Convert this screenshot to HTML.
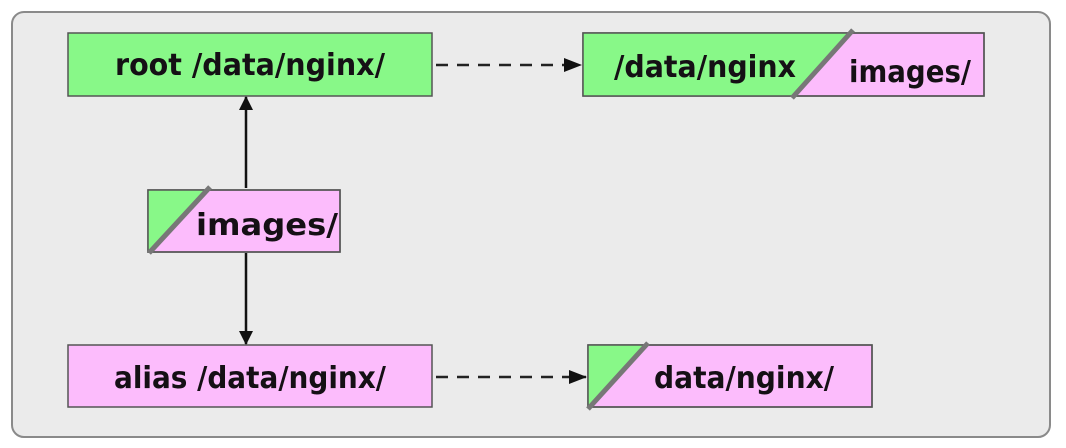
<!DOCTYPE html>
<html><head><meta charset="utf-8"><style>
html,body{margin:0;padding:0;background:#fff;}
svg{display:block;}
text{font-family:"DejaVu Sans","Liberation Sans",sans-serif;font-size:30px;font-weight:bold;fill:#151015;}
</style></head><body>
<svg width="1066" height="448" viewBox="0 0 1066 448">
<defs>
<marker id="ah" markerWidth="14" markerHeight="14" refX="13" refY="7" orient="auto" markerUnits="userSpaceOnUse">
<path d="M0,0 L14,7 L0,14 z" fill="#111"/></marker>
<marker id="ah2" markerWidth="18" markerHeight="14" refX="17" refY="7" orient="auto" markerUnits="userSpaceOnUse">
<path d="M0,0 L18,7 L0,14 z" fill="#111"/></marker>
</defs>
<rect x="12" y="12" width="1038" height="425" rx="12" fill="#ebebeb" stroke="#8a8a8a" stroke-width="2"/>
<rect x="68" y="33" width="364" height="63" fill="#88f888" stroke="#555" stroke-width="1.5"/>
<text x="250" y="75" text-anchor="middle" textLength="270" lengthAdjust="spacingAndGlyphs">root /data/nginx/</text>
<rect x="583" y="33" width="401" height="63" fill="#fcbcfc" stroke="#555" stroke-width="1.5"/>
<polygon points="583,33 850,33 793,96 583,96" fill="#88f888"/>
<rect x="583" y="33" width="401" height="63" fill="none" stroke="#555" stroke-width="1.5"/>
<line x1="853" y1="30" x2="792" y2="98" stroke="#777" stroke-width="5"/>
<text x="614" y="77" textLength="182" lengthAdjust="spacingAndGlyphs">/data/nginx</text>
<text x="849" y="82" textLength="122" lengthAdjust="spacingAndGlyphs">images/</text>
<rect x="148" y="190" width="192" height="62" fill="#fcbcfc" stroke="#555" stroke-width="1.5"/>
<polygon points="148,190 208,190 150,252 148,252" fill="#88f888"/>
<rect x="148" y="190" width="192" height="62" fill="none" stroke="#555" stroke-width="1.5"/>
<line x1="210" y1="187" x2="149" y2="253" stroke="#777" stroke-width="5"/>
<text x="196" y="235" textLength="142" lengthAdjust="spacingAndGlyphs">images/</text>
<rect x="68" y="345" width="364" height="62" fill="#fcbcfc" stroke="#555" stroke-width="1.5"/>
<text x="250" y="388" text-anchor="middle" textLength="272" lengthAdjust="spacingAndGlyphs">alias /data/nginx/</text>
<rect x="588" y="345" width="284" height="62" fill="#fcbcfc" stroke="#555" stroke-width="1.5"/>
<polygon points="588,345 646,345 590,407 588,407" fill="#88f888"/>
<rect x="588" y="345" width="284" height="62" fill="none" stroke="#555" stroke-width="1.5"/>
<line x1="648" y1="343" x2="588" y2="409" stroke="#777" stroke-width="5"/>
<text x="654" y="388" textLength="180" lengthAdjust="spacingAndGlyphs">data/nginx/</text>
<line x1="246" y1="188" x2="246" y2="97" stroke="#111" stroke-width="2.5" marker-end="url(#ah)"/>
<line x1="246" y1="253" x2="246" y2="344" stroke="#111" stroke-width="2.5" marker-end="url(#ah)"/>
<line x1="436" y1="65" x2="581" y2="65" stroke="#222" stroke-width="2.5" stroke-dasharray="12,9" marker-end="url(#ah2)"/>
<line x1="436" y1="377" x2="586" y2="377" stroke="#222" stroke-width="2.5" stroke-dasharray="12,9" marker-end="url(#ah2)"/>
</svg>
</body></html>
